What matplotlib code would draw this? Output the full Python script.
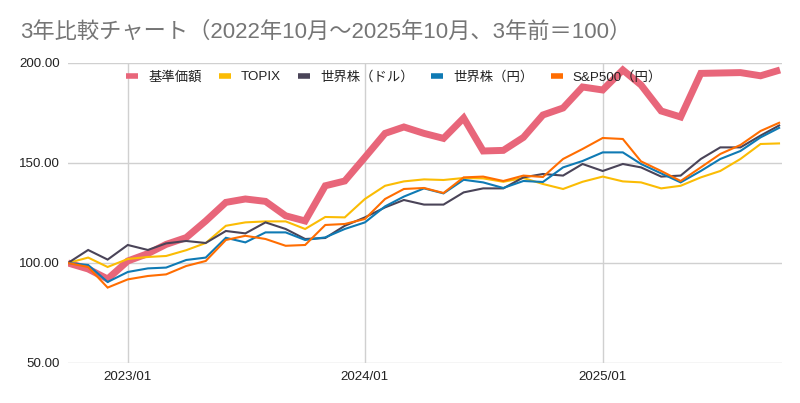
"""3-year comparison chart (base = 100)."""

import matplotlib

matplotlib.use("Agg")
import matplotlib.dates as mdates
import matplotlib.pyplot as plt
from matplotlib.lines import Line2D
from matplotlib.ticker import FixedLocator, FuncFormatter
import pandas as pd

FONT = ["Liberation Sans", "Noto Sans CJK JP"]
plt.rcParams["font.family"] = FONT

months = pd.date_range("2022-10-01", "2025-10-01", freq="MS")

kijun = [100, 97, 92, 101, 104.7, 109.3, 112.7, 121, 130.3, 132, 130.8, 123.6, 121,
         138.6, 141, 152.8, 164.8, 168, 164.8, 162.3, 172.5, 156, 156.3, 162.8, 174,
         177.5, 188, 186.5, 196.5, 189, 176, 173, 194.8, 195, 195.2, 193.6, 196.5]
topix = [100, 102.7, 98, 102, 103, 103.5, 106.4, 110, 118.6, 120.3, 120.8, 120.8, 117,
         123, 122.8, 132, 138.6, 140.8, 141.8, 141.5, 142.5, 142.3, 140.6, 142.5, 139.5,
         137, 140.6, 143.2, 140.8, 140.3, 137.3, 138.6, 142.8, 146, 152, 159.5, 159.8]
world_usd = [100, 106.5, 101.7, 109, 106.5, 109.8, 111, 110, 116, 114.8, 120.3, 117, 112,
             112.5, 118.6, 122.8, 127.8, 131.5, 129.2, 129.2, 135.3, 137.3, 137.3, 142.8,
             144.5, 143.7, 149.5, 146, 149.5, 147.8, 143.2, 143.7, 152, 157.8, 157.8,
             163.7, 169]
world_jpy = [100, 99, 90.5, 95.5, 97.3, 97.7, 101.5, 102.7, 112.6, 110.3, 115.3, 115.3,
             111.5, 112.8, 117, 120.3, 128.3, 133.2, 137.3, 134.8, 141.6, 140.3, 137.5, 141,
             140.5, 147.8, 151, 155.3, 155.3, 149.5, 144.8, 140.3, 146, 152, 156, 162.8,
             167.8]
sp500_jpy = [100, 98, 87.7, 91.8, 93.5, 94.3, 98.5, 101, 111.5, 113.6, 112, 108.6, 109,
             119, 119.5, 122, 132, 137, 137.5, 135, 142.8, 143.2, 141, 143.7, 143, 152,
             157, 162.5, 162, 150.8, 146, 141, 147.8, 154.5, 159, 166, 170.3]

series = [
    ("基準価額", kijun, "#e8667a", 5.0),
    ("TOPIX", topix, "#fbbc04", 1.5),
    ("世界株（ドル）", world_usd, "#4a4458", 1.5),
    ("世界株（円）", world_jpy, "#0f7ab4", 1.5),
    ("S&P500（円）", sp500_jpy, "#ff6d01", 1.5),
]
y_ticks = [50, 100, 150, 200]
x_ticks = pd.to_datetime(["2023-01-01", "2024-01-01", "2025-01-01"])

fig = plt.figure(figsize=(8, 4.03), dpi=100)
ax = fig.add_axes([0.085, 0.0993, 0.8925, 0.7444])

for name, values, color, width in series:
    ax.plot(months, values, color=color, lw=width, solid_joinstyle="miter",
            solid_capstyle="butt", label=name)

ax.set_ylim(50, 200)
ax.set_xlim(months[0], months[-1] + pd.Timedelta(days=3))
ax.yaxis.set_major_locator(FixedLocator(y_ticks))
ax.yaxis.set_major_formatter(FuncFormatter(lambda v, _: f"{v:.2f}"))
ax.xaxis.set_major_locator(FixedLocator(mdates.date2num(x_ticks)))
ax.xaxis.set_major_formatter(mdates.DateFormatter("%Y/%m"))
ax.grid(True, color="#d0d0d0", lw=1)
ax.set_axisbelow(True)
for spine in ax.spines.values():
    spine.set_visible(False)
ax.tick_params(length=0, labelsize=9.6, colors="#222222", pad=6)

fig.text(0.025, 0.92, "3年比較チャート（2022年10月～2025年10月、3年前＝100）",
         fontsize=16, color="#757575", va="center", ha="left")

handles = [Line2D([], [], color=c, lw=4, solid_capstyle="butt") for _, _, c, _ in series]
fig.legend(handles, [s[0] for s in series], loc="center", ncol=5, frameon=False,
           bbox_to_anchor=(0.4925, 1 - 77 / 403), fontsize=9.6, handlelength=0.9,
           handletextpad=0.75, columnspacing=1.3, labelcolor="#222222")

fig.savefig("out.png", dpi=100)
